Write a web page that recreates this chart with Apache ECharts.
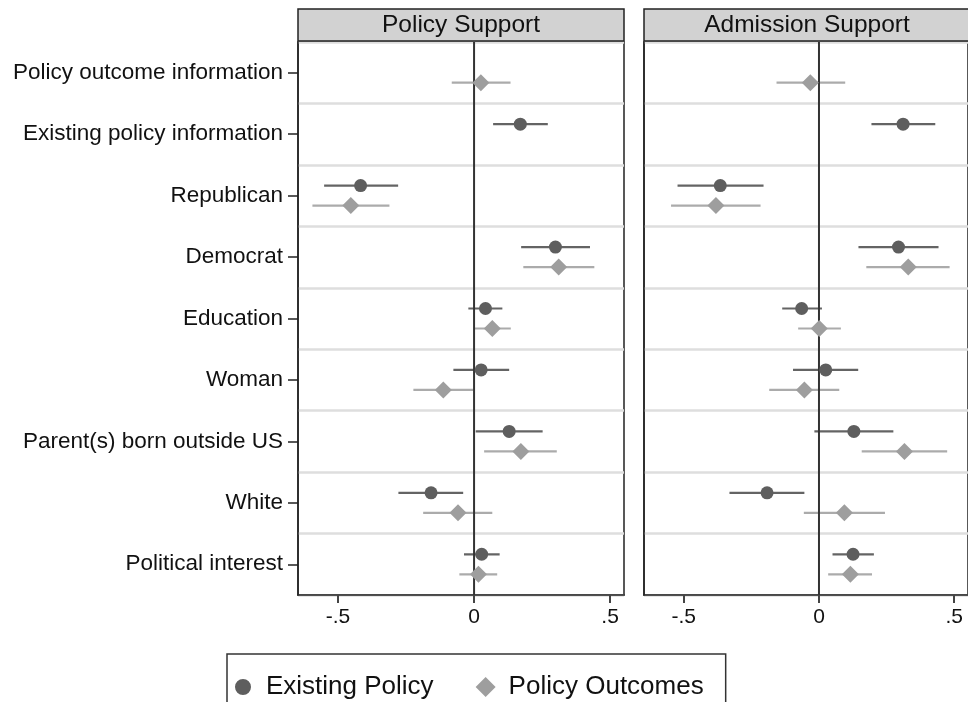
<!DOCTYPE html>
<html>
<head>
<meta charset="utf-8">
<script src="https://cdn.jsdelivr.net/npm/echarts@6/dist/echarts.min.js"></script>
<style>html,body{margin:0;padding:0;background:#fff}#c{width:968px;height:702px}</style>
</head>
<body>
<div id="c"></div>
<script>
const categories = ['Policy outcome information','Existing policy information','Republican','Democrat','Education','Woman','Parent(s) born outside US','White','Political interest'];
const panels = ['Policy Support','Admission Support'];
const xTicks = [-0.5, 0, 0.5];
const seriesNames = ['Existing Policy','Policy Outcomes'];

// Policy Support panel
const psExistEst = [null, 0.170, -0.417, 0.299, 0.042, 0.026, 0.129, -0.158, 0.028];
const psExistLo  = [null, 0.070, -0.551, 0.173, -0.021, -0.076, 0.006, -0.278, -0.037];
const psExistHi  = [null, 0.271, -0.279, 0.426, 0.104, 0.129, 0.252, -0.040, 0.094];
const psOutEst = [0.025, null, -0.453, 0.311, 0.067, -0.113, 0.172, -0.059, 0.016];
const psOutLo  = [-0.082, null, -0.594, 0.181, 0.001, -0.223, 0.037, -0.187, -0.054];
const psOutHi  = [0.134, null, -0.311, 0.442, 0.135, -0.002, 0.304, 0.067, 0.085];

// Admission Support panel
const asExistEst = [null, 0.311, -0.365, 0.294, -0.064, 0.025, 0.129, -0.192, 0.126];
const asExistLo  = [null, 0.194, -0.523, 0.146, -0.136, -0.096, -0.017, -0.331, 0.050];
const asExistHi  = [null, 0.430, -0.205, 0.442, 0.011, 0.145, 0.275, -0.054, 0.203];
const asOutEst = [-0.032, null, -0.381, 0.330, 0.001, -0.054, 0.316, 0.094, 0.116];
const asOutLo  = [-0.157, null, -0.547, 0.175, -0.077, -0.184, 0.158, -0.056, 0.034];
const asOutHi  = [0.097, null, -0.216, 0.483, 0.081, 0.075, 0.474, 0.244, 0.196];

const FONT = "'Liberation Sans', Arial, Helvetica, sans-serif";
const DARK = '#5e5e5e', LIGHT = '#9e9e9e';
const DARKLINE = '#646464', LIGHTLINE = '#ababab';
const OFF = 10;

function fmt(v){ if (v === 0) return '0'; return (v < 0 ? '-' : '') + String(Math.abs(v)).replace(/^0/, ''); }

function errData(lo, hi){ const d=[]; lo.forEach((l,i)=>{ if(l!==null) d.push([l, i, hi[i]]); }); return d; }
function ptData(est){ const d=[]; est.forEach((e,i)=>{ if(e!==null) d.push([e, i]); }); return d; }

function errSeries(gi, lo, hi, dir, color){
  return {
    type: 'custom', xAxisIndex: gi, yAxisIndex: gi, silent: true, z: 2,
    data: errData(lo, hi),
    renderItem: function(params, api){
      const a = api.coord([api.value(0), api.value(1)]);
      const b = api.coord([api.value(2), api.value(1)]);
      const y = a[1] + dir*OFF;
      return {type:'line', shape:{x1:a[0], y1:y, x2:b[0], y2:y}, style:{stroke: color, lineWidth: 2.2}};
    }
  };
}
function zeroSeries(gi){
  return {
    type: 'custom', xAxisIndex: gi, yAxisIndex: gi, silent: true, z: 3,
    data: [[0, 0]],
    renderItem: function(params, api){
      const cs = params.coordSys;
      const p = api.coord([0, 0]);
      return {type:'line', shape:{x1:p[0], y1:cs.y, x2:p[0], y2:cs.y+cs.height}, style:{stroke:'#333', lineWidth:2}};
    }
  };
}
function ptSeries(gi, est, name, symbol, size, color, dir){
  return {type:'scatter', name: name, xAxisIndex: gi, yAxisIndex: gi, z: 4,
    symbol: symbol, symbolSize: size, symbolOffset:[0, dir*OFF],
    itemStyle:{color: color, opacity: 1}, data: ptData(est)};
}

const grids = [
  {left: 298, top: 42, width: 326, height: 553},
  {left: 644, top: 42, width: 326, height: 553}
];

function xAxis(gi){
  return {type:'value', gridIndex: gi, min: -0.647, max: 0.551,
    axisLine:{show:true, onZero:false, lineStyle:{color:'#222', width:1.5}},
    axisTick:{show:true, length:8, customValues: xTicks, lineStyle:{color:'#444', width:2}},
    axisLabel:{show:true, customValues: xTicks, formatter: fmt, fontSize:21, fontFamily:FONT, color:'#111', margin:12},
    splitLine:{show:false}};
}
function yAxis(gi){
  return {type:'category', gridIndex: gi, data: categories, inverse: true, boundaryGap: true,
    axisLine:{show:true, onZero:false, lineStyle:{color:'#222', width:1.5}},
    axisTick:{show: gi===0, alignWithLabel:true, length:10, lineStyle:{color:'#222', width:1.5}},
    axisLabel:{show: gi===0, fontSize:22.5, fontFamily:FONT, color:'#111', margin:15},
    splitLine:{show:true, lineStyle:{color:'#dedede', width:2.5}}};
}

const series = [
  errSeries(0, psExistLo, psExistHi, -1, DARKLINE),
  errSeries(0, psOutLo, psOutHi, 1, LIGHTLINE),
  zeroSeries(0),
  ptSeries(0, psExistEst, seriesNames[0], 'circle', 13, DARK, -1),
  ptSeries(0, psOutEst, seriesNames[1], 'diamond', 17, LIGHT, 1),
  errSeries(1, asExistLo, asExistHi, -1, DARKLINE),
  errSeries(1, asOutLo, asOutHi, 1, LIGHTLINE),
  zeroSeries(1),
  ptSeries(1, asExistEst, seriesNames[0], 'circle', 13, DARK, -1),
  ptSeries(1, asOutEst, seriesNames[1], 'diamond', 17, LIGHT, 1)
];

const graphic = [];
panels.forEach((p, i) => {
  const g = grids[i];
  graphic.push({type:'rect', shape:{x:g.left, y:9, width:g.width, height:32},
    style:{fill:'#d2d2d2', stroke:'#222', lineWidth:1.5}, z: 10});
  graphic.push({type:'text', x: g.left + g.width/2, y: 25, z: 11,
    style:{text:p, font:'24.5px ' + FONT, fill:'#111', textAlign:'center', textVerticalAlign:'middle'}});
});

const chart = echarts.init(document.getElementById('c'));
chart.setOption({
  animation: false,
  backgroundColor: '#fff',
  grid: grids.map(g => Object.assign({show:true, borderColor:'#222', borderWidth:1.5, backgroundColor:'transparent'}, g)),
  xAxis: [xAxis(0), xAxis(1)],
  yAxis: [yAxis(0), yAxis(1)],
  legend: {
    data: [
      {name: seriesNames[0], icon:'circle', itemStyle:{color: DARK, borderColor:'#fff', borderWidth:4}},
      {name: seriesNames[1], icon:'diamond', itemStyle:{color: LIGHT, borderWidth:0}}
    ],
    left: 227, top: 654, orient:'horizontal',
    itemWidth: 20, itemHeight: 20, itemGap: 42,
    padding: [20, 22, 20, 4],
    borderColor: '#333', borderWidth: 1.5,
    textStyle: {fontSize: 26, fontFamily: FONT, color:'#111', padding:[0,0,0,8]},
    selectedMode: false
  },
  graphic: graphic,
  series: series
});
</script>
</body>
</html>
